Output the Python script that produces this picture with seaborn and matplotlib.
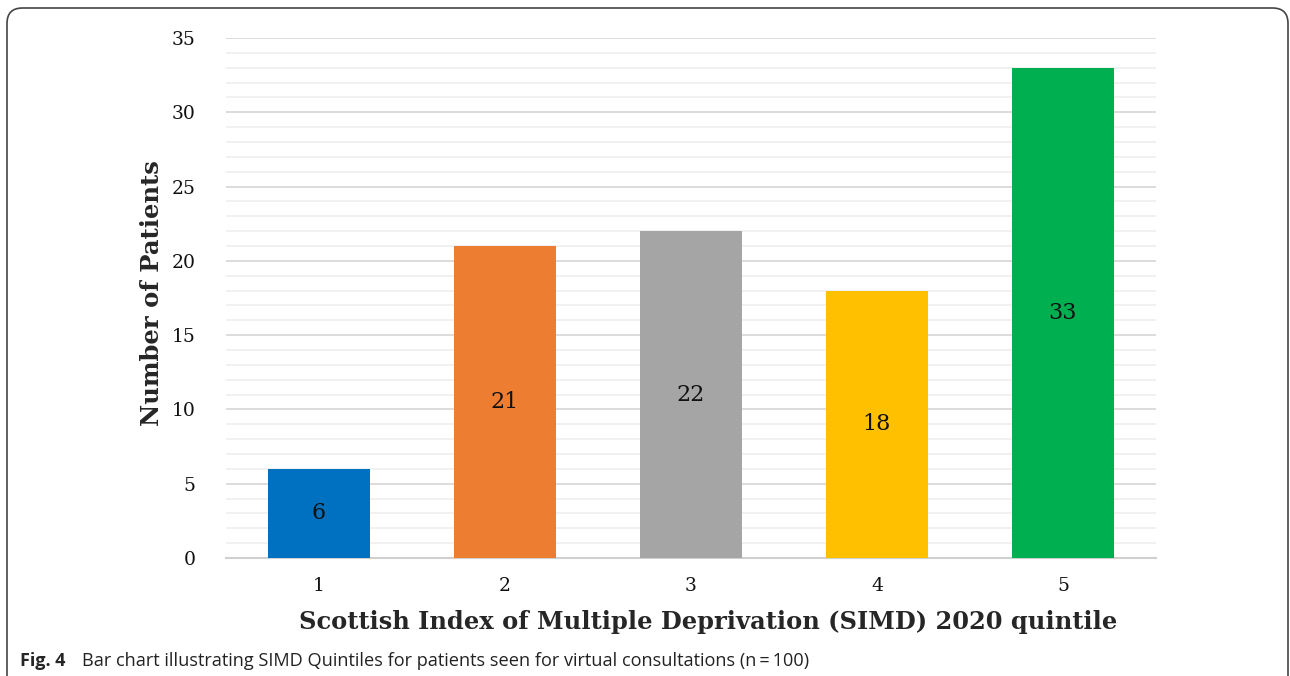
import matplotlib
matplotlib.use("Agg")
import matplotlib.pyplot as plt
import pandas as pd
import seaborn as sns
from matplotlib.patches import FancyBboxPatch
from matplotlib.ticker import MultipleLocator

quintiles = ["1", "2", "3", "4", "5"]
patients = [6, 21, 22, 18, 33]
bar_colors = ["#0070C0", "#ED7D31", "#A5A5A5", "#FFC000", "#00B050"]

x_title = "Scottish Index of Multiple Deprivation (SIMD) 2020 quintile"
y_title = "Number of Patients"
caption_bold = "Fig. 4"
caption_text = "Bar chart illustrating SIMD Quintiles for patients seen for virtual consultations (n\u2009=\u2009100)"

df = pd.DataFrame({"quintile": quintiles, "patients": patients})

sns.set_theme(style="white")
plt.rcParams["font.family"] = ["DejaVu Serif"]

fig = plt.figure(figsize=(12.9, 6.76), dpi=100)
ax = fig.add_axes([0.1752, 0.1746, 0.7209, 0.7692])

sns.barplot(data=df, x="quintile", y="patients", hue="quintile",
            palette=bar_colors, saturation=1, width=0.55, linewidth=0,
            legend=False, ax=ax, zorder=3)

# value labels in the middle of each bar
for p, v in zip(ax.patches, patients):
    ax.text(p.get_x() + p.get_width() / 2, v / 2, str(v),
            ha="center", va="center", fontsize=16, color="#111111", zorder=4)

ax.set_ylim(0, 35)
ax.set_xlim(-0.5, 4.5)
ax.yaxis.set_major_locator(MultipleLocator(5))
ax.yaxis.set_minor_locator(MultipleLocator(1))
ax.grid(axis="y", which="major", color="#d9d9d9", linewidth=1.3, zorder=0)
ax.grid(axis="y", which="minor", color="#f0f0f0", linewidth=1.3, zorder=0)
ax.set_axisbelow(True)
for side in ["top", "right", "left"]:
    ax.spines[side].set_visible(False)
ax.spines["bottom"].set_color("#d0d0d0")
ax.spines["bottom"].set_linewidth(1.5)
ax.tick_params(axis="both", which="both", length=0, labelsize=13.5, colors="#111111")
ax.tick_params(axis="y", pad=22)
ax.tick_params(axis="x", pad=14)

ax.set_xlabel(x_title, fontsize=17.4, fontweight="bold")
ax.xaxis.set_label_coords(0.518, -0.1)
ax.set_ylabel(y_title, fontsize=17.5, fontweight="bold")
ax.yaxis.set_label_coords(-0.067, 0.51)

# rounded frame, open at the bottom
frame = FancyBboxPatch((7 / 1290, -0.05), 1281 / 1290, 1 - 8 / 676 + 0.05,
                       boxstyle="round,pad=0,rounding_size=0.012",
                       transform=fig.transFigure, fill=False,
                       edgecolor="#444444", linewidth=1.2, mutation_aspect=1290 / 676)
fig.patches.append(frame)

fig.text(20 / 1290, 1 - 661 / 676, caption_bold, fontsize=13, fontweight="bold",
         family=["Open Sans", "DejaVu Sans"], va="center", ha="left")
fig.text(82 / 1290, 1 - 661 / 676, caption_text, fontsize=13.1,
         family=["Open Sans", "DejaVu Sans"], va="center", ha="left", color="#222222")

fig.savefig("out.png", dpi=100)
